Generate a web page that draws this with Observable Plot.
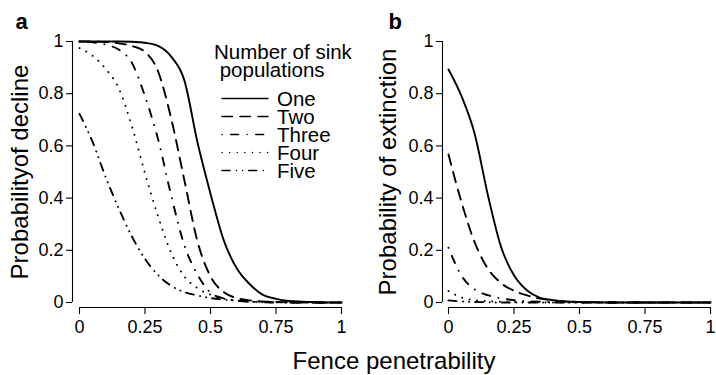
<!DOCTYPE html>
<html><head><meta charset="utf-8">
<script src="https://cdn.jsdelivr.net/npm/d3@7"></script>
<script src="https://cdn.jsdelivr.net/npm/@observablehq/plot@0.6"></script>
<style>
body{margin:0;background:#fff;}
#wrap{position:relative;width:716px;height:375px;font-family:"Liberation Sans",Arial,Helvetica,sans-serif;}
#wrap > svg, #wrap > figure{position:absolute;top:0;margin:0;}
</style></head><body><div id="wrap"></div>
<script>
// ---- data ----
const penetrability = [0,0.05,0.1,0.15,0.2,0.25,0.3,0.35,0.4,0.45,0.5,0.55,0.6,0.65,0.7,0.75,0.8,0.85,0.9,0.95,1];
const seriesNames = ["One","Two","Three","Four","Five"];
// panel a: probability of decline
const declineOne   = [1,1,1,1,0.999,0.995,0.983,0.942,0.852,0.615,0.417,0.24,0.131,0.07,0.029,0.014,0.006,0.003,0.001,0,0];
const declineTwo   = [1,1,0.998,0.993,0.983,0.96,0.885,0.705,0.47,0.235,0.1,0.04,0.017,0.008,0.004,0.002,0.001,0,0,0,0];
const declineThree = [1,0.997,0.988,0.969,0.918,0.79,0.625,0.41,0.22,0.108,0.038,0.016,0.007,0.003,0.001,0,0,0,0,0,0];
const declineFour  = [0.975,0.945,0.895,0.82,0.675,0.495,0.33,0.19,0.1,0.055,0.03,0.015,0.007,0.003,0.001,0,0,0,0,0,0];
const declineFive  = [0.723,0.615,0.48,0.36,0.253,0.167,0.105,0.064,0.04,0.027,0.017,0.011,0.007,0.004,0.002,0.001,0,0,0,0,0];
// panel b: probability of extinction
const extinctOne   = [0.893,0.79,0.646,0.413,0.215,0.104,0.046,0.018,0.009,0.004,0.002,0.001,0,0,0,0,0,0,0,0,0];
const extinctTwo   = [0.567,0.383,0.23,0.13,0.075,0.045,0.027,0.015,0.008,0.004,0.002,0.001,0,0,0,0,0,0,0,0,0];
const extinctThree = [0.21,0.102,0.05,0.028,0.016,0.009,0.005,0.003,0.002,0.001,0,0,0,0,0,0,0,0,0,0,0];
const extinctFour  = [0.044,0.019,0.009,0.005,0.003,0.002,0.001,0,0,0,0,0,0,0,0,0,0,0,0,0,0];
const extinctFive  = [0.008,0.004,0.002,0.001,0,0,0,0,0,0,0,0,0,0,0,0,0,0,0,0,0];
const xTicks = [0,0.25,0.5,0.75,1];
const xTickLabels = ["0","0.25","0.5","0.75","1"];
const yTicks = [0,0.2,0.4,0.6,0.8,1];
const yTickLabels = ["0","0.2","0.4","0.6","0.8","1"];
const panelLabels = ["a","b"];
const yTitles = ["Probabilityof decline","Probability of extinction"];
const xTitle = "Fence penetrability";
const legendTitle = ["Number of sink"," populations"];

// ---- styles ----
const dashes = ["none","10.5,7.5","0.1,8.5,8,8.5","0.1,7.5","8,6.5,0.1,6,0.1,6"];
const font = '"Liberation Sans",Arial,Helvetica,sans-serif';
const wrap = document.getElementById("wrap");

function toRows(vals){ return vals.map((v,i)=>({x:penetrability[i], y:v})); }

function panel(seriesVals, idx, mLeft, mRight, axDx){
  const lines = seriesVals.map((vals,k)=>Plot.line(toRows(vals),{x:"x",y:"y",curve:"monotone-x",stroke:"black",strokeWidth:1.9,strokeDasharray:dashes[k],strokeLinecap:"round"}));
  return Plot.plot({
    width:358, height:375,
    marginLeft:mLeft, marginRight:mRight, marginTop:41, marginBottom:73,
    style:{fontFamily:font, fontSize:"18px", color:"black", background:"transparent", overflow:"visible"},
    x:{domain:[0,1]},
    y:{domain:[0,1]},
    marks:[
      Plot.ruleX([d3.min(xTicks)],{y1:()=>d3.min(yTicks),y2:()=>d3.max(yTicks),dx:axDx,stroke:"black",strokeWidth:1.1}),
      Plot.ruleY([d3.min(yTicks)],{x1:()=>d3.min(xTicks),x2:()=>d3.max(xTicks),dy:5,stroke:"black",strokeWidth:1.1}),
      Plot.axisY({ticks:yTicks,tickFormat:(d,i)=>yTickLabels[yTicks.indexOf(d)],tickSize:6,tickPadding:3,dx:axDx,fontSize:18,label:null,strokeWidth:1.1}),
      Plot.axisX({ticks:xTicks,tickFormat:(d,i)=>xTickLabels[xTicks.indexOf(d)],tickSize:7,tickPadding:6,dy:5,fontSize:18,label:null,strokeWidth:1.1}),
      ...lines,
      Plot.text([yTitles[idx]],{frameAnchor:"left",dx:idx===0?-52:-53,rotate:-90,fontSize:24,lineAnchor:"bottom",textAnchor:"middle",fill:"black"}),
      Plot.text([panelLabels[idx]],{frameAnchor:"top-left",dx:idx===0?-64:-60,dy:-13,fontSize:22,fontWeight:"bold",lineAnchor:"bottom",textAnchor:"start",fill:"black"})
    ]
  });
}

const pa = panel([declineOne,declineTwo,declineThree,declineFour,declineFive],0,79,17,-7);
const pb = panel([extinctOne,extinctTwo,extinctThree,extinctFour,extinctFive],1,90,6,-6);
pa.style.left="0px"; pb.style.left="358px";
wrap.appendChild(pa); wrap.appendChild(pb);

// ---- overlay: legend and shared x title ----
const ov = d3.create("svg").attr("width",716).attr("height",375)
  .style("position","absolute").style("left","0px").style("top","0px")
  .style("pointer-events","none").style("font-family",font);
ov.append("text").attr("x",394).attr("y",369).attr("text-anchor","middle").attr("font-size",24).attr("fill","black").text(xTitle);
const lg = ov.append("g");
legendTitle.forEach((t,i)=>{
  lg.append("text").attr("x",214).attr("y",58.5+i*18.3).attr("font-size",20.5).attr("fill","black").style("white-space","pre").text(t);
});
seriesNames.forEach((s,i)=>{
  const yb = 106+i*18;
  lg.append("line").attr("x1",222).attr("x2",268).attr("y1",yb-7.5).attr("y2",yb-7.5)
    .attr("stroke","black").attr("stroke-width",1.4).attr("stroke-linecap","round")
    .attr("stroke-dasharray",dashes[i]==="none"?null:dashes[i]);
  lg.append("text").attr("x",277).attr("y",yb).attr("font-size",20.5).attr("fill","black").text(s);
});
wrap.appendChild(ov.node());
</script></body></html>
